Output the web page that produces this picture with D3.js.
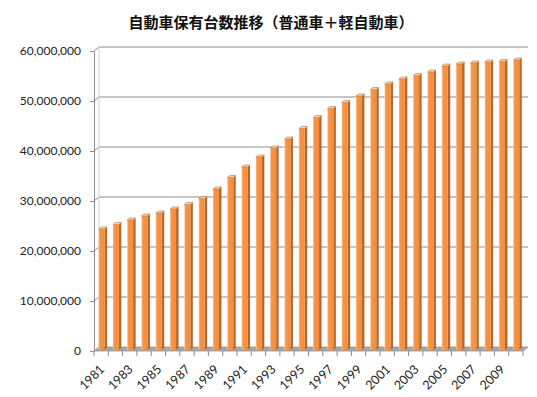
<!doctype html>
<html>
<head>
<meta charset="utf-8">
<script src="https://cdn.jsdelivr.net/npm/d3@7"></script>
<style>
  body { margin: 0; background: #fff; }
  svg { display: block; }
  .axis text { font-family: Lato, "Liberation Sans", Arial, sans-serif; font-size: 12px; fill: #222; }
  .axis text.year { font-size: 12.5px; }
  .title { font-family: "Noto Sans CJK JP", sans-serif; font-size: 15px; font-weight: bold; fill: #111; }
</style>
</head>
<body>
<svg id="chart" width="537" height="397"></svg>
<script>
  (function () {
    var years = [1981, 1982, 1983, 1984, 1985, 1986, 1987, 1988, 1989, 1990,
      1991, 1992, 1993, 1994, 1995, 1996, 1997, 1998, 1999, 2000,
      2001, 2002, 2003, 2004, 2005, 2006, 2007, 2008, 2009, 2010];
    var vehicles = [24.5, 25.4, 26.3, 27.1, 27.7, 28.5, 29.4, 30.6, 32.5, 34.8,
      36.9, 38.9, 40.7, 42.5, 44.6, 46.8, 48.6, 49.8, 51.1, 52.4,
      53.5, 54.5, 55.2, 55.9, 57.1, 57.5, 57.7, 57.9, 58.0, 58.3].map(function (d) { return d * 1e6; });
    var yTicks = [0, 10000000, 20000000, 30000000, 40000000, 50000000, 60000000];
    var yearLabels = years.filter(function (d, i) { return i % 2 === 0; });
    var title = '自動車保有台数推移（普通車＋軽自動車）';

    // 3D offset of the back wall relative to the front plane
    var depthX = 5, depthY = -4;

    var svg = d3.select('#chart');

    var x = d3.scaleBand().domain(years).range([94, 523]).padding(0);
    var y = d3.scaleLinear().domain([0, 60000000]).range([351, 51]);

    var defs = svg.append('defs');
    var grad = defs.append('linearGradient').attr('id', 'barFront');
    grad.append('stop').attr('offset', '0%').attr('stop-color', '#fcc9a0');
    grad.append('stop').attr('offset', '22%').attr('stop-color', '#f79646');
    grad.append('stop').attr('offset', '100%').attr('stop-color', '#f48c3a');

    svg.append('text')
      .attr('class', 'title')
      .attr('x', 271)
      .attr('y', 28)
      .attr('text-anchor', 'middle')
      .text(title);

    var x0 = x.range()[0], x1 = x.range()[1];

    // floor
    svg.append('path')
      .attr('d', 'M' + x0 + ',' + y(0) + 'L' + x1 + ',' + y(0) +
        'L' + (x1 + depthX) + ',' + (y(0) + depthY) + 'L' + (x0 + depthX) + ',' + (y(0) + depthY) + 'Z')
      .attr('fill', '#a6a6a6')
      .attr('stroke', '#969696')
      .attr('stroke-width', 0.8);

    // gridlines on side wall + back wall
    svg.append('g').selectAll('path')
      .data(yTicks.filter(function (d) { return d > 0; }))
      .enter().append('path')
      .attr('d', function (d) {
        return 'M' + x0 + ',' + y(d) + 'L' + (x0 + depthX) + ',' + (y(d) + depthY) + 'L' + (x1 + depthX) + ',' + (y(d) + depthY);
      })
      .attr('fill', 'none')
      .attr('stroke', '#8c8c8c')
      .attr('stroke-width', 1);

    // back wall left edge
    svg.append('line')
      .attr('x1', x0 + depthX).attr('x2', x0 + depthX)
      .attr('y1', y(0) + depthY).attr('y2', y(60000000) + depthY)
      .attr('stroke', '#d0d0d0');

    // y axis
    var yAxis = svg.append('g')
      .attr('class', 'axis')
      .attr('transform', 'translate(' + x0 + ',0)')
      .call(d3.axisLeft(y).tickValues(yTicks).tickFormat(d3.format(',d')).tickSize(4).tickSizeOuter(0).tickPadding(9));
    yAxis.select('.domain').attr('stroke', '#8c8c8c');
    yAxis.selectAll('.tick line').attr('stroke', '#8c8c8c');

    // bars
    var bw = 6, sx = 2.5, sy = -2;
    var bars = svg.append('g').selectAll('g')
      .data(years.map(function (d, i) { return { year: d, value: vehicles[i] }; }))
      .enter().append('g')
      .attr('transform', function (d) {
        return 'translate(' + (x(d.year) + x.bandwidth() / 2 - 2.6) + ',0)';
      });

    var base = y(0) - 1;
    bars.append('path')
      .attr('d', function (d) {
        var t = y(d.value) + 0.5;
        return 'M' + bw + ',' + base + 'L' + (bw + sx) + ',' + (base + sy) +
          'L' + (bw + sx) + ',' + (t + sy) + 'L' + bw + ',' + t + 'Z';
      })
      .attr('fill', '#b26a30');

    bars.append('rect')
      .attr('x', 0)
      .attr('y', function (d) { return y(d.value) + 0.5; })
      .attr('width', bw)
      .attr('height', function (d) { return base - y(d.value) - 0.5; })
      .attr('fill', 'url(#barFront)');

    bars.append('path')
      .attr('d', function (d) {
        var t = y(d.value) + 0.5;
        return 'M0,' + t + 'L' + bw + ',' + t + 'L' + (bw + sx) + ',' + (t + sy) + 'L' + sx + ',' + (t + sy) + 'Z';
      })
      .attr('fill', '#fbd2b0')
      .attr('stroke', '#c07a3e')
      .attr('stroke-width', 0.6);

    // x axis: ticks at category boundaries
    var xAxis = svg.append('g').attr('class', 'axis');
    xAxis.selectAll('line')
      .data(years.concat(['end']))
      .enter().append('line')
      .attr('x1', function (d) { return d === 'end' ? x1 : x(d); })
      .attr('x2', function (d) { return d === 'end' ? x1 : x(d); })
      .attr('y1', y(0))
      .attr('y2', y(0) + 5)
      .attr('stroke', '#8c8c8c');

    xAxis.selectAll('text')
      .data(yearLabels)
      .enter().append('text')
      .attr('class', 'year')
      .attr('text-anchor', 'end')
      .attr('transform', function (d) {
        return 'translate(' + (x(d) + x.bandwidth() / 2 + 4) + ',' + 370 + ') rotate(-45)';
      })
      .text(function (d) { return d; });
  })();
</script>
</body>
</html>
